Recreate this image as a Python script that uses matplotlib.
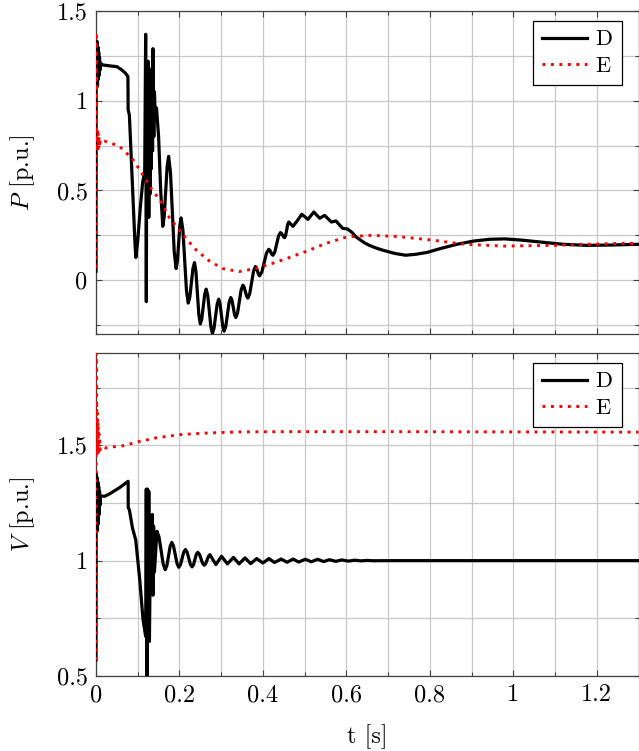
import matplotlib
matplotlib.use("Agg")
import matplotlib.pyplot as plt
from matplotlib.ticker import FixedLocator, FuncFormatter, MultipleLocator

plt.rcParams["font.family"] = ["cmr10", "DejaVu Serif"]
plt.rcParams["mathtext.fontset"] = "cm"
plt.rcParams["axes.formatter.use_mathtext"] = True

# ---------------- data ----------------
# Active power, series D
t_P_D = [0, 0.0005, 0.0015, 0.0025, 0.0035, 0.0045, 0.0055, 0.0065, 0.0075, 0.0085, 0.0095, 0.011,
         0.015, 0.03, 0.05, 0.06, 0.07, 0.0765,
         0.077, 0.080, 0.0935, 0.0955, 0.100, 0.106, 0.112, 0.1167,
         0.119, 0.1206, 0.122, 0.1235, 0.125, 0.1265, 0.128, 0.1295, 0.131, 0.1325, 0.134, 0.1355, 0.1365, 0.1385, 0.140,
         0.142, 0.145, 0.150, 0.155,
         0.160, 0.1635, 0.1705, 0.174, 0.1785, 0.1875, 0.192, 0.195, 0.201, 0.204,
         0.2083, 0.2168, 0.221, 0.2248, 0.2323, 0.236, 0.2395, 0.2465, 0.250,
         0.2535, 0.2605, 0.264, 0.2678, 0.2753, 0.279, 0.2828, 0.2903, 0.294,
         0.2973, 0.3038, 0.307, 0.311, 0.319, 0.323, 0.326, 0.332, 0.335,
         0.3393, 0.3478, 0.352, 0.355, 0.361, 0.364, 0.3685, 0.3775, 0.382,
         0.3845, 0.3895, 0.392, 0.3975, 0.4085, 0.414, 0.4165, 0.4215, 0.424,
         0.4285, 0.4375, 0.442, 0.4445, 0.4495, 0.452, 0.4545, 0.4595, 0.462,
         0.472, 0.482,
         0.493, 0.508, 0.522, 0.536, 0.548, 0.564, 0.575, 0.591, 0.603, 0.614,
         0.622, 0.642, 0.654, 0.670, 0.686, 0.706, 0.718, 0.742, 0.766, 0.794,
         0.825, 0.865, 0.905, 0.944, 0.980, 1.016, 1.063, 1.119, 1.175, 1.238,
         1.30]
P_D = [0.05, 1.30, 1.10, 1.33, 1.08, 1.30, 1.12, 1.27, 1.14, 1.24, 1.17, 1.21,
       1.20, 1.195, 1.19, 1.175, 1.155, 1.135,
       0.95, 0.92, 0.20, 0.126, 0.22, 0.40, 0.55, 0.60,
       1.37, -0.12, 1.20, 0.40, 1.22, 0.35, 1.15, 0.48, 1.10, 0.62, 1.18, 0.72, 1.29, 0.80, 1.05,
       0.92, 0.96, 0.80, 0.50,
       0.30, 0.357, 0.633, 0.69, 0.599, 0.156, 0.065, 0.106, 0.306, 0.347,
       0.278, -0.059, -0.128, -0.095, 0.065, 0.098, 0.048, -0.194, -0.244,
       -0.216, -0.078, -0.05, -0.086, -0.26, -0.296, -0.268, -0.134, -0.106,
       -0.132, -0.258, -0.284, -0.257, -0.124, -0.097, -0.113, -0.192, -0.208,
       -0.182, -0.054, -0.028, -0.039, -0.089, -0.10, -0.074, 0.05, 0.076,
       0.068, 0.032, 0.024, 0.046, 0.150, 0.172, 0.167, 0.144, 0.139,
       0.157, 0.247, 0.265, 0.261, 0.241, 0.237, 0.25, 0.311, 0.324,
       0.30, 0.33,
       0.367, 0.339, 0.38, 0.345, 0.361, 0.324, 0.33, 0.289, 0.285, 0.265,
       0.243, 0.21, 0.195, 0.18, 0.168, 0.155, 0.148, 0.139, 0.144, 0.155,
       0.176, 0.20, 0.218, 0.228, 0.230, 0.224, 0.213, 0.20, 0.194, 0.196,
       0.20]

# Active power, series E
t_P_E = [0, 0.0005, 0.001, 0.002, 0.003, 0.004, 0.005, 0.006, 0.007, 0.008,
         0.009, 0.010, 0.012, 0.021, 0.035, 0.057, 0.0865, 0.109, 0.1325, 0.155,
         0.176, 0.212, 0.240, 0.271, 0.303, 0.343, 0.383, 0.422, 0.462, 0.502,
         0.550, 0.601, 0.660, 0.724, 0.803, 0.883, 0.978, 1.097, 1.256, 1.30]
P_E = [0.07, 1.38, 0.90, 0.72, 0.83, 0.71, 0.82, 0.73, 0.80, 0.74,
       0.79, 0.76, 0.77, 0.774, 0.765, 0.744, 0.678, 0.60, 0.51, 0.44,
       0.348, 0.243, 0.168, 0.108, 0.065, 0.048, 0.065, 0.093, 0.125, 0.159,
       0.204, 0.241, 0.250, 0.243, 0.224, 0.20, 0.19, 0.194, 0.205, 0.205]

# Voltage, series D
t_V_D = [0, 0.0005, 0.0015, 0.0025, 0.0035, 0.0045, 0.0055, 0.0065, 0.0075, 0.0085,
         0.0095, 0.011, 0.021, 0.033, 0.057, 0.077, 0.0772, 0.080,
         0.0873, 0.0952, 0.1048, 0.1127, 0.119, 0.1205, 0.122, 0.1235, 0.125, 0.1265,
         0.128, 0.130, 0.1335, 0.135, 0.1365, 0.138, 0.140,
         0.146, 0.151, 0.161, 0.1659, 0.1698, 0.1777, 0.1816, 0.1858, 0.1942, 0.1984,
         0.2024, 0.2103, 0.2143, 0.2183, 0.2262, 0.2302, 0.2336, 0.2403, 0.2437,
         0.2477, 0.2556, 0.2595, 0.2629, 0.2696, 0.273,
         0.2873, 0.3008, 0.315, 0.3294, 0.3429, 0.3571, 0.3706,
         0.3849, 0.400, 0.4143, 0.4278, 0.4437, 0.4579, 0.4722, 0.4857, 0.5016, 0.5159,
         0.531, 0.5452, 0.5595, 0.5746, 0.5889, 0.6048, 0.62, 0.635, 0.65, 0.665,
         0.70, 1.30]
V_D = [0.57, 1.38, 1.15, 1.36, 1.13, 1.34, 1.16, 1.32, 1.20, 1.30,
       1.24, 1.28, 1.279, 1.29, 1.317, 1.344, 1.23, 1.22,
       1.142, 1.09, 0.918, 0.744, 0.672, 1.31, 0.35, 1.31, 0.66, 1.30,
       0.65, 1.0, 0.9, 1.20, 0.85, 1.15, 0.95,
       1.127, 1.103, 0.985, 0.961, 0.978, 1.062, 1.079, 1.063, 0.987, 0.971,
       0.982, 1.037, 1.048, 1.037, 0.984, 0.973, 0.982, 1.027, 1.036,
       1.028, 0.988, 0.98, 0.987, 1.019, 1.026,
       0.983, 1.019, 0.986, 1.014, 0.986, 1.012, 0.987,
       1.009, 0.99, 1.009, 0.992, 1.007, 0.993, 1.007, 0.994, 1.006, 0.995,
       1.006, 0.996, 1.004, 0.997, 1.003, 0.998, 1.002, 0.999, 1.001, 0.9995,
       1.0, 1.0]

# Voltage, series E
t_V_E = [0, 0.0005, 0.001, 0.0015, 0.002, 0.003, 0.004, 0.005, 0.006, 0.007,
         0.008, 0.009, 0.010, 0.012, 0.021, 0.04, 0.065, 0.105, 0.144, 0.2,
         0.264, 0.343, 0.46, 0.7, 1.0, 1.3]
V_E = [0.57, 1.90, 1.55, 1.68, 1.46, 1.64, 1.47, 1.60, 1.47, 1.55,
       1.48, 1.52, 1.48, 1.49, 1.488, 1.493, 1.498, 1.517, 1.532, 1.546,
       1.553, 1.558, 1.559, 1.559, 1.558, 1.557]

t_ticks = [0, 0.2, 0.4, 0.6, 0.8, 1.0, 1.2]
P_ticks = [0, 0.5, 1.0, 1.5]
V_ticks = [0.5, 1.0, 1.5]
series_names = ["D", "E"]

# ---------------- figure ----------------
W, H = 639, 751
fig = plt.figure(figsize=(W / 100, H / 100), dpi=100)
left = 96 / W
width = (638.5 - 96) / W
ax1 = fig.add_axes([left, 1 - 334 / H, width, (334 - 11) / H])
ax2 = fig.add_axes([left, 1 - 676 / H, width, (676 - 353) / H])

dot_style = (0, (1, 1.9))
spine_col = "#404040"
grid_col = "#c8c8c8"
fs = 17.5


def fmt(v, pos):
    return f"{v:g}"


def style(ax, yticks, yminor, ylim):
    ax.set_xlim(0, 1.3)
    ax.set_ylim(*ylim)
    ax.xaxis.set_major_locator(FixedLocator(t_ticks))
    ax.xaxis.set_minor_locator(MultipleLocator(0.1))
    ax.yaxis.set_major_locator(FixedLocator(yticks))
    ax.yaxis.set_minor_locator(MultipleLocator(yminor))
    ax.xaxis.set_major_formatter(FuncFormatter(fmt))
    ax.yaxis.set_major_formatter(FuncFormatter(fmt))
    ax.grid(True, which="both", color=grid_col, lw=0.9)
    ax.set_axisbelow(True)
    ax.tick_params(which="both", direction="in", top=True, right=True,
                   color=spine_col, width=0.8, labelsize=fs, pad=6)
    ax.tick_params(which="major", length=4)
    ax.tick_params(which="minor", length=3)
    for s in ax.spines.values():
        s.set_color(spine_col)
        s.set_linewidth(0.9)


ax1.plot(t_P_D, P_D, color="black", lw=2.3, label=series_names[0], zorder=3)
ax1.plot(t_P_E, P_E, color="red", lw=2.1, ls=dot_style, label=series_names[1], zorder=3)
ax2.plot(t_V_D, V_D, color="black", lw=2.3, label=series_names[0], zorder=3)
ax2.plot(t_V_E, V_E, color="red", lw=2.1, ls=dot_style, label=series_names[1], zorder=3)

style(ax1, P_ticks, 0.25, (-0.3, 1.5))
style(ax2, V_ticks, 0.25, (0.5, 1.9))
ax1.tick_params(labelbottom=False)

ax1.set_ylabel(r"$P$ [p.u.]", fontsize=fs)
ax2.set_ylabel(r"$V$ [p.u.]", fontsize=fs)
ax2.set_xlabel("t [s]", fontsize=fs, labelpad=13)
ax1.yaxis.set_label_coords(-0.108, 0.5)
ax2.yaxis.set_label_coords(-0.108, 0.5)

for ax in (ax1, ax2):
    leg = ax.legend(loc="upper right", bbox_to_anchor=(1 - 17 / 542.5, 1 - 10 / 323),
                    borderaxespad=0, fancybox=False, framealpha=1, edgecolor="black",
                    fontsize=16, handlelength=2.0, handletextpad=0.4,
                    labelspacing=0.3, borderpad=0.4)
    leg.get_frame().set_linewidth(0.9)
    leg.set_zorder(5)

fig.savefig("out.png", dpi=100)
